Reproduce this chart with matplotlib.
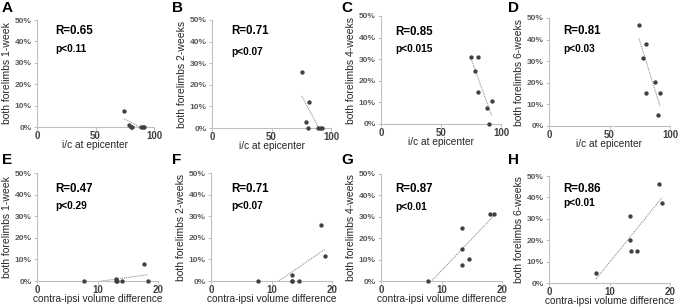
import numpy as np
import matplotlib
matplotlib.use("Agg")
import matplotlib.pyplot as plt
from matplotlib.ticker import FuncFormatter

plt.rcParams['font.family'] = ['Liberation Sans', 'DejaVu Sans']

# i/c at epicenter (top row) and contra-ipsi volume difference (bottom row)
ic_a = [74.4, 78.4, 80.3, 81.3, 88.6, 90.3, 91.8]
y_a = [7.6, 0.9, 0.0, 0.0, 0.0, 0.0, 0.0]
ic_b = [75.5, 78.6, 81.4, 80.8, 89.0, 91.0, 92.4]
y_b = [26.0, 2.9, 11.9, 0.0, 0.0, 0.0, 0.0]
ic_c = [74.7, 78.0, 81.1, 80.5, 88.3, 90.3, 92.2]
y_c = [31.1, 24.7, 31.1, 14.9, 7.4, 0.0, 10.6]
ic_d = [74.4, 78.0, 80.4, 80.2, 87.9, 89.8, 91.7]
y_d = [46.7, 31.7, 37.8, 15.3, 20.4, 5.0, 15.5]

vol_e = [7.7, 13.0, 13.0, 14.1, 17.7, 18.3, 13.2]
y_e = [0.0, 0.8, 0.0, 0.0, 7.7, 0.0, 0.0]
vol_f = [7.8, 13.4, 13.4, 14.5, 18.1, 18.8, 13.4]
y_f = [0.0, 2.6, 0.0, 0.0, 25.9, 11.8, 0.0]
vol_g = [7.8, 13.4, 13.4, 13.4, 14.5, 18.0, 18.7]
y_g = [0.0, 24.9, 15.0, 7.3, 10.4, 31.5, 31.5]
vol_h = [7.8, 13.4, 13.4, 13.5, 14.5, 18.1, 18.7]
y_h = [4.7, 31.5, 19.9, 14.8, 15.1, 46.4, 37.6]

letters = ['A', 'B', 'C', 'D', 'E', 'F', 'G', 'H']
r_text = ['R=0.65', 'R=0.71', 'R=0.85', 'R=0.81', 'R=0.47', 'R=0.71', 'R=0.87', 'R=0.86']
p_text = ['p<0.11', 'p<0.07', 'p<0.015', 'p<0.03', 'p<0.29', 'p<0.07', 'p<0.01', 'p<0.01']
weeks = ['1-week', '2-weeks', '4-weeks', '6-weeks'] * 2

xs = [ic_a, ic_b, ic_c, ic_d, vol_e, vol_f, vol_g, vol_h]
ys = [y_a, y_b, y_c, y_d, y_e, y_f, y_g, y_h]

W, H = 678, 306
# axes boxes in pixels: left, top, right, bottom
boxes = [(37, 20, 154, 127), (212, 20, 331, 128), (381, 16, 501, 124), (549, 18, 670, 126),
         (37, 173, 158, 281), (211, 173, 332, 281), (381, 174, 502, 281), (549, 176, 670, 283)]
text_pos = [(0.154, 0.90, 0.73), (0.16, 0.90, 0.70), (0.117, 0.85, 0.69), (0.116, 0.88, 0.71),
            (0.149, 0.856, 0.69), (0.165, 0.85, 0.69), (0.116, 0.86, 0.69), (0.116, 0.88, 0.75)]

fig = plt.figure(figsize=(W / 100, H / 100), dpi=100)
spine_c = '#bfbfbf'
tick_c = '#595959'

for i in range(8):
    l, t, r, b = boxes[i]
    ax = fig.add_axes([l / W, 1 - b / H, (r - l) / W, (b - t) / H])
    x = np.array(xs[i])
    y = np.array(ys[i])
    top = i < 4
    xmax = 100 if top else 20
    ax.set_xlim(0, xmax)
    ax.set_ylim(0, 50)
    ax.set_xticks([0, xmax / 2, xmax])
    ax.set_xticklabels(['0', str(int(xmax / 2)), str(xmax)])
    ax.set_yticks(range(0, 51, 10))
    ax.yaxis.set_major_formatter(FuncFormatter(lambda v, p: '%d%%' % v))
    for s in ['top', 'right']:
        ax.spines[s].set_visible(False)
    for s in ['left', 'bottom']:
        ax.spines[s].set_color(spine_c)
        ax.spines[s].set_linewidth(0.8)
    ax.tick_params(axis='y', labelsize=6, colors=spine_c, labelcolor=tick_c, length=2.5, width=0.7, pad=1.5)
    ax.tick_params(axis='x', labelsize=7, colors=spine_c, labelcolor='#404040', length=2.5, width=0.7, pad=0.5)
    for lab in ax.get_yticklabels() + ax.get_xticklabels():
        lab.set_fontweight('bold')

    # linear trendline
    k, c0 = np.polyfit(x, y, 1)
    xx = np.array([x.min(), x.max()])
    ax.plot(xx, k * xx + c0, ls=(0, (1, 1)), color='#7f7f7f', lw=0.7, zorder=2)
    ax.scatter(x, y, s=4.5, color='#404040', zorder=3, clip_on=False)

    ax.set_ylabel('both forelimbs ' + weeks[i], fontsize=7.5, color='#262626', labelpad=2)
    ax.set_xlabel('i/c at epicenter' if top else 'contra-ipsi volume difference',
                  fontsize=7.3, color='#262626', labelpad=-0.5)

    tx, ry, py = text_pos[i]
    ax.text(tx, ry, r_text[i], transform=ax.transAxes, fontsize=8.3, fontweight='bold',
            color='black', va='center')
    ax.text(tx, py, p_text[i], transform=ax.transAxes, fontsize=7.3, fontweight='bold',
            color='black', va='center')

    lx = [2, 172, 341, 508][i % 4]
    ly = 1 if top else 153
    fig.text(lx / W, 1 - ly / H, letters[i], fontsize=11, fontweight='bold', va='top', ha='left')

fig.savefig('out.png', dpi=100)
